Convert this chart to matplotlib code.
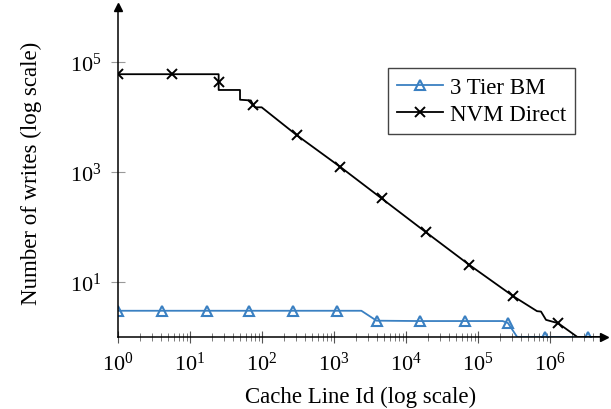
import matplotlib
matplotlib.use("Agg")
import matplotlib.pyplot as plt
import numpy as np

plt.rcParams['font.family'] = ['Liberation Serif', 'DejaVu Serif']
plt.rcParams['mathtext.fontset'] = 'custom'
plt.rcParams['mathtext.rm'] = 'Liberation Serif'
plt.rcParams['mathtext.it'] = 'Liberation Serif:italic'

# NVM Direct: line points (steps included)
nvm_x = [1, 5.6, 25, 25, 25, 49.5, 49.5, 70, 75.6, 80, 99, 302, 1210, 4600,
         1.9e4, 7.6e4, 3.1e5, 6.6e5, 7.5e5, 8.8e5, 1.3e6, 2.4e6, 5.6e6]
nvm_y = [6e4, 6e4, 6e4, 4.3e4, 3.1e4, 3.1e4, 2.06e4, 2.0e4, 1.65e4, 1.5e4, 1.5e4,
         4.7e3, 1.25e3, 330, 80, 20.4, 5.5, 2.95, 2.9, 2.05, 1.78, 1.0, 1.0]
nvm_marks = [0, 1, 3, 8, 11, 12, 13, 14, 15, 16, 20]

# 3 Tier BM
bm_x = [1, 4.1, 17, 66, 270, 1100, 2400, 3900, 1.56e4, 6.6e4, 2.2e5, 2.6e5,
        3.5e5, 8.5e5, 3.4e6, 5.6e6]
bm_y = [3.0, 3.0, 3.0, 3.0, 3.0, 3.0, 3.0, 1.98, 1.95, 1.95, 1.95, 1.8,
        1.0, 1.0, 1.0, 1.0]
bm_marks = [0, 1, 2, 3, 4, 5, 7, 8, 9, 11, 13, 14]

blue = '#3a80c2'

fig = plt.figure(figsize=(6.11, 4.10), dpi=100)
W, H = 611, 410
x0, x1, y0, y1 = 118, 604, 338, 8
ax = fig.add_axes([x0 / W, 1 - y0 / H, (x1 - x0) / W, (y0 - y1) / H])

ax.plot(bm_x, bm_y, color=blue, lw=1.3, marker='^', ms=7.5, mfc='none',
        mew=1.5, markevery=bm_marks, label='3 Tier BM', clip_on=True)
ax.plot(nvm_x, nvm_y, color='black', lw=1.3, marker='x', ms=6.5,
        mew=1.4, markevery=nvm_marks, label='NVM Direct')

ax.set_xscale('log')
ax.set_yscale('log')
ax.set_xlim(1, 10 ** ((x1 - x0) / 72))
ax.set_ylim(1, 1e6)

ax.spines['top'].set_visible(False)
ax.spines['right'].set_visible(False)
for s in ('left', 'bottom'):
    ax.spines[s].set_linewidth(1.1)
ax.plot(1, 0, '>k', ms=6, transform=ax.transAxes, clip_on=False)
ax.plot(0, 1, '^k', ms=6, transform=ax.transAxes, clip_on=False)

ax.set_xticks([10 ** k for k in range(7)])
ax.set_xticklabels([r'$10^{%d}$' % k for k in range(7)])
ax.set_yticks([1e1, 1e3, 1e5])
ax.set_yticklabels([r'$10^{1}$', r'$10^{3}$', r'$10^{5}$'])
ax.yaxis.set_minor_locator(matplotlib.ticker.NullLocator())
ax.xaxis.set_minor_locator(matplotlib.ticker.LogLocator(base=10, subs=np.arange(2, 10)))
ax.xaxis.set_minor_formatter(matplotlib.ticker.NullFormatter())
ax.tick_params(axis='x', which='major', direction='inout', length=9, width=0.8,
               color='#555555', labelsize=16, pad=6)
ax.tick_params(axis='x', which='minor', direction='inout', length=6, width=0.6,
               color='#666666')
ax.tick_params(axis='y', which='major', direction='inout', length=10, width=0.8,
               color='#999999', labelsize=16, pad=7)

ax.set_xlabel('Cache Line Id (log scale)', fontsize=16.5, labelpad=8)
ax.set_ylabel('Number of writes (log scale)', fontsize=16.5, labelpad=20)

leg = ax.legend(loc='upper left', bbox_to_anchor=(388 / W, 1 - 69 / H),
                bbox_transform=fig.transFigure, fontsize=16.5, frameon=True,
                fancybox=False, edgecolor='#444444', framealpha=1,
                handlelength=2.0, borderpad=0.4, labelspacing=0.25,
                handletextpad=0.3, borderaxespad=0)
leg.get_frame().set_linewidth(1.0)

fig.savefig('out.png', dpi=100)
